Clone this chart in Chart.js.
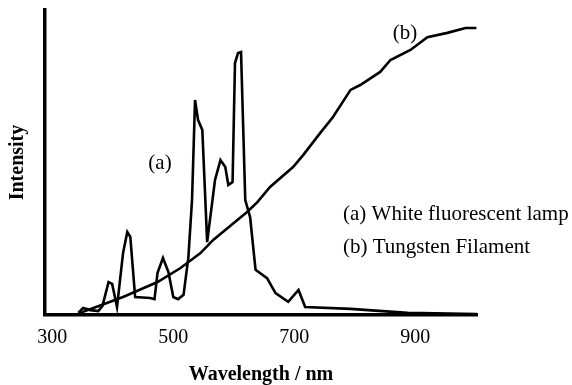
<!DOCTYPE html>
<html>
<head>
<meta charset="utf-8">
<script src="https://cdn.jsdelivr.net/npm/chart.js@4/dist/chart.umd.min.js"></script>
<style>
  html, body { margin: 0; padding: 0; background: #fff; }
  #wrap { width: 572px; height: 385px; position: relative; }
</style>
</head>
<body>
<div id="wrap"><canvas id="c" width="572" height="385"></canvas></div>
<script>
// Wavelength tick labels (nm)
const xTicks = [300, 500, 700, 900];

// (a) White fluorescent lamp
const fluorWavelength = [343, 351, 363, 376, 383, 393, 399, 407, 417, 424, 429, 437, 462, 469, 474, 483, 492, 500, 508, 517, 525, 531, 536, 541, 548, 553, 556, 569, 578, 586, 591, 598, 602, 607, 612, 619, 627, 636, 655, 669, 690, 707, 718, 793, 887, 1002];
const fluorIntensity  = [0.7, 2.3, 1.6, 1.3, 3.0, 10.8, 10.2, 2.6, 20.3, 27.2, 25.6, 5.9, 5.6, 5.2, 13.8, 18.7, 14.1, 5.9, 5.2, 6.6, 19.0, 37.7, 70.5, 63.9, 60.7, 37.7, 23.9, 44.3, 50.8, 48.5, 42.6, 43.6, 82.6, 85.9, 86.2, 37.7, 32.1, 14.8, 12.1, 7.2, 4.3, 8.2, 2.6, 2.0, 0.7, 0.3];

// (b) Tungsten filament
const tungWavelength = [346, 368, 417, 474, 512, 545, 566, 594, 622, 639, 660, 698, 715, 743, 764, 793, 809, 842, 859, 892, 920, 953, 983, 1001];
const tungIntensity  = [0.7, 2.3, 5.9, 10.8, 15.4, 20.3, 24.6, 29.2, 33.8, 37.0, 42.0, 48.5, 52.5, 59.7, 64.9, 73.8, 75.4, 79.7, 83.6, 86.9, 91.1, 92.5, 94.1, 94.1];

const labels = {
  a: '(a)',
  b: '(b)',
  legendA: '(a) White fluorescent lamp',
  legendB: '(b) Tungsten Filament'
};

const toXY = (xs, ys) => xs.map((x, i) => ({ x: x, y: ys[i] }));

const SERIF = '"Liberation Serif", "Times New Roman", serif';

const textPlugin = {
  id: 'textPlugin',
  afterDraw(chart) {
    const ctx = chart.ctx;
    ctx.save();
    ctx.fillStyle = '#000';
    ctx.font = '21px ' + SERIF;
    ctx.textBaseline = 'middle';
    ctx.textAlign = 'center';
    ctx.fillText(labels.a, 160, 163);
    ctx.fillText(labels.b, 405, 33);
    ctx.textAlign = 'left';
    ctx.fillText(labels.legendA, 343, 214);
    ctx.fillText(labels.legendB, 343, 247);
    ctx.restore();
  }
};

new Chart(document.getElementById('c'), {
  type: 'line',
  data: {
    datasets: [
      {
        label: labels.legendA,
        data: toXY(fluorWavelength, fluorIntensity),
        borderColor: '#000',
        borderWidth: 2.6,
        pointRadius: 0,
        tension: 0,
        fill: false
      },
      {
        label: labels.legendB,
        data: toXY(tungWavelength, tungIntensity),
        borderColor: '#000',
        borderWidth: 2.6,
        pointRadius: 0,
        tension: 0,
        fill: false
      }
    ]
  },
  options: {
    responsive: false,
    animation: false,
    devicePixelRatio: 1,
    layout: { padding: { left: 0, right: 95, top: 10, bottom: 0 } },
    plugins: { legend: { display: false }, tooltip: { enabled: false } },
    scales: {
      x: {
        type: 'linear',
        min: 288,
        max: 1002,
        afterBuildTicks(scale) { scale.ticks = xTicks.map(v => ({ value: v })); },
        afterFit(scale) { scale.height = 70; },
        grid: { display: false, drawTicks: false },
        border: { display: true, color: '#000', width: 3.5 },
        ticks: {
          color: '#000',
          font: { family: SERIF, size: 20 },
          padding: 11,
          maxRotation: 0,
          autoSkip: false
        },
        title: {
          display: true,
          text: 'Wavelength / nm',
          color: '#000',
          font: { family: SERIF, size: 20, weight: 'bold' },
          padding: { top: 0, bottom: -2 }
        }
      },
      y: {
        min: 0,
        max: 100,
        afterFit(scale) { scale.width = 45; },
        grid: { display: false, drawTicks: false },
        border: { display: true, color: '#000', width: 3.5 },
        ticks: { display: false },
        title: {
          display: true,
          text: 'Intensity',
          color: '#000',
          font: { family: SERIF, size: 20, weight: 'bold' },
          padding: { top: 6, bottom: 0 }
        }
      }
    }
  },
  plugins: [textPlugin]
});
</script>
</body>
</html>
